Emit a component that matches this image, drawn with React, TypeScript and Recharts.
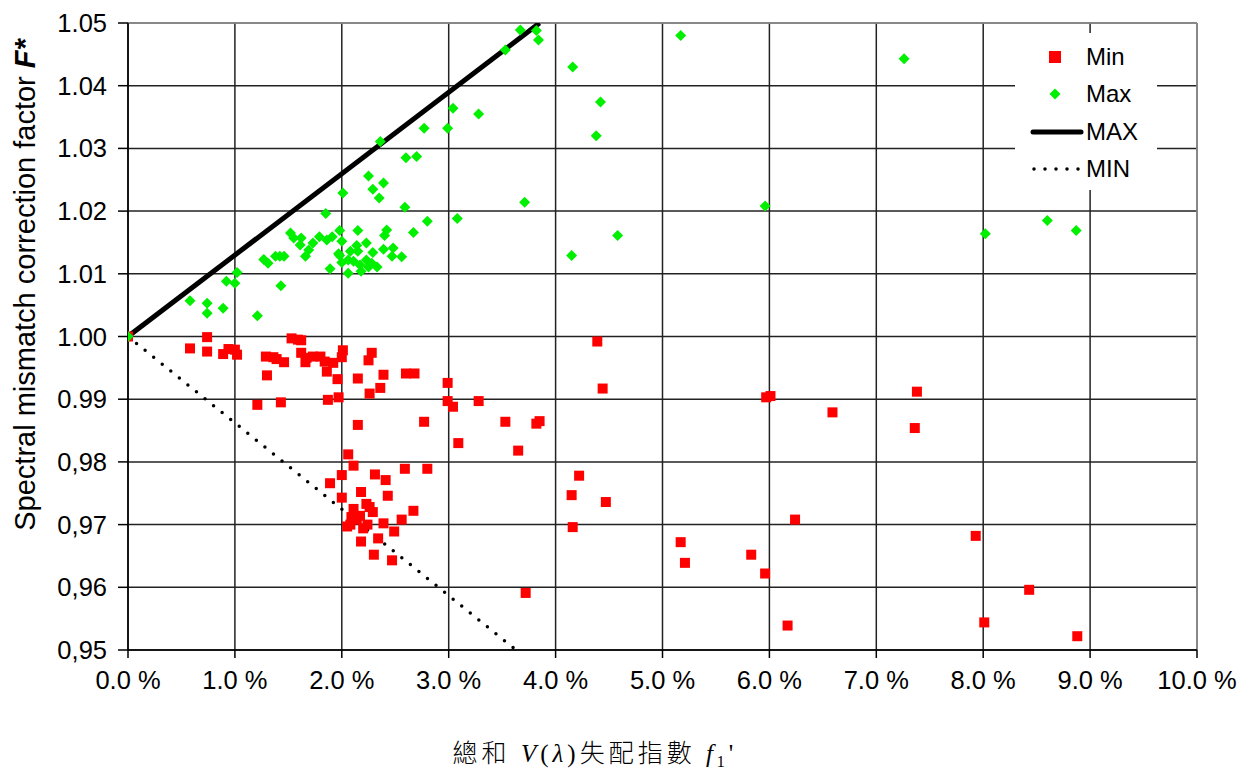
import React from 'react'
import {
  ScatterChart,
  Scatter,
  XAxis,
  YAxis,
  CartesianGrid,
  ReferenceLine,
  Label,
} from 'recharts'

// x = f1' in %, y = F*
const minX = [
  0, 0.58, 0.74, 0.74, 0.89, 0.94, 1.0, 1.02, 1.29, 1.36, 1.39, 1.46, 1.53, 1.59, 1.62, 1.3,
  1.62, 1.67, 1.66, 1.73, 1.8, 1.84, 1.86, 1.92, 2.01, 2.0, 1.96, 2.15, 2.39, 2.28, 2.25, 2.6,
  2.68, 2.36, 2.26, 1.21, 1.43, 1.87, 1.97, 2.15, 2.77, 2.06, 2.11, 2.0, 1.89, 2.59, 2.8, 2.31,
  2.41, 2.18, 2.43, 2.0, 2.11, 2.23, 2.26, 2.29, 2.17, 2.09, 2.14, 2.08, 2.05, 2.2, 2.24, 2.39,
  2.56, 2.67, 2.49, 2.34, 2.18, 2.3, 2.47, 2.99, 2.99, 3.04, 3.28, 3.09, 3.53, 3.65, 3.82, 3.85,
  3.72, 4.39, 4.44, 4.22, 4.15, 4.47, 4.16, 5.17, 5.21, 5.83, 5.96, 5.97, 6.01, 6.24, 6.17, 6.59,
  7.38, 7.36, 7.93, 8.43, 8.01, 8.88,
]
const minY = [
  1.0, 0.9981, 0.9999, 0.9976, 0.9972, 0.998, 0.9979, 0.9971, 0.9968, 0.9967, 0.9964, 0.9959, 0.9997, 0.9995, 0.9994, 0.9938,
  0.9974, 0.9966, 0.9959, 0.9968, 0.9968, 0.996, 0.9944, 0.9958, 0.9978, 0.9967, 0.9932, 0.9933, 0.9939, 0.9974, 0.9962, 0.9941,
  0.9941, 0.9918, 0.9909, 0.9891, 0.9895, 0.9899, 0.9903, 0.9859, 0.9864, 0.9812, 0.9794, 0.9779, 0.9766, 0.9789, 0.9789, 0.978,
  0.9771, 0.9752, 0.9746, 0.9743, 0.9725, 0.9733, 0.9728, 0.972, 0.9714, 0.9712, 0.9708, 0.97, 0.9697, 0.9694, 0.97, 0.9702,
  0.9708, 0.9722, 0.9689, 0.9678, 0.9673, 0.9652, 0.9643, 0.9926, 0.9897, 0.9888, 0.9897, 0.983, 0.9864, 0.9818, 0.9861, 0.9865,
  0.9591, 0.9992, 0.9917, 0.9778, 0.9747, 0.9736, 0.9696, 0.9672, 0.9639, 0.9652, 0.9622, 0.9903, 0.9905, 0.9708, 0.9539, 0.9879,
  0.9912, 0.9854, 0.9682, 0.9596, 0.9544, 0.9522,
]

const maxX = [
  0, 0.58, 0.74, 0.74, 0.89, 0.92, 1.02, 1.0, 1.21, 1.27, 1.31, 1.38, 1.42, 1.46, 1.43, 1.52,
  1.55, 1.62, 1.61, 1.66, 1.69, 1.73, 1.79, 1.86, 1.91, 1.98, 2.0, 1.89, 1.97, 1.98, 2.0, 2.06,
  2.06, 2.08, 2.11, 2.14, 2.15, 2.15, 2.17, 2.18, 2.23, 2.23, 2.25, 2.28, 2.29, 2.33, 2.39, 2.4,
  2.42, 2.47, 2.48, 2.56, 1.85, 2.01, 2.25, 2.29, 2.39, 2.35, 2.36, 2.59, 2.67, 2.8, 2.6, 2.7,
  2.77, 2.99, 3.04, 3.28, 3.08, 3.53, 3.67, 3.82, 3.84, 3.71, 4.16, 4.15, 4.42, 4.38, 4.58, 5.17,
  5.96, 7.26, 8.02, 8.6, 8.87,
]
const maxY = [
  1.0, 1.0057, 1.0053, 1.0037, 1.0045, 1.0088, 1.0102, 1.0085, 1.0033, 1.0123, 1.0117, 1.0128, 1.0128, 1.0128, 1.0081, 1.0165,
  1.0157, 1.0157, 1.0146, 1.0128, 1.0138, 1.0149, 1.0159, 1.0154, 1.0159, 1.0169, 1.0152, 1.0108, 1.0132, 1.0129, 1.0118, 1.0122,
  1.0101, 1.0136, 1.012, 1.0145, 1.0136, 1.0169, 1.0114, 1.0104, 1.0149, 1.0122, 1.0111, 1.0117, 1.0134, 1.0111, 1.0139, 1.0161,
  1.017, 1.0128, 1.0141, 1.0127, 1.0196, 1.0229, 1.0256, 1.0235, 1.0245, 1.0221, 1.0311, 1.0206, 1.0166, 1.0184, 1.0285, 1.0287,
  1.0332, 1.0332, 1.0364, 1.0355, 1.0188, 1.0457, 1.0489, 1.0488, 1.0473, 1.0214, 1.043, 1.0129, 1.0374, 1.032, 1.0161, 1.048,
  1.0208, 1.0443, 1.0164, 1.0185, 1.0169,
]

// bounding lines
const maxLineX = [0, 3.85]
const maxLineY = [1.0, 1.05]
const minLineX = [0, 3.63]
const minLineY = [1.0, 0.95]

const xTicks = [0, 1, 2, 3, 4, 5, 6, 7, 8, 9, 10]
const yTicks = [0.95, 0.96, 0.97, 0.98, 0.99, 1.0, 1.01, 1.02, 1.03, 1.04, 1.05]
const yTickLabels = ['0,95', '0,96', '0,97', '0,98', '0.99', '1.00', '1.01', '1.02', '1.03', '1.04', '1.05']

const toPoints = (xs: number[], ys: number[]) => xs.map((x, i) => ({ x, y: ys[i] }))

const minData = toPoints(minX, minY)
const maxData = toPoints(maxX, maxY)
const maxLine = toPoints(maxLineX, maxLineY)
const minLine = toPoints(minLineX, minLineY)

const FONT = '"Liberation Sans", Arial, sans-serif'
const RED = '#ff0000'
const GREEN = '#00f000'

const Square = (props: any) => (
  <rect x={props.cx - 5} y={props.cy - 5} width={10} height={10} fill={RED} />
)

const Diamond = (props: any) => {
  const { cx, cy } = props
  const r = 5.5
  return <polygon points={`${cx},${cy - r} ${cx + r},${cy} ${cx},${cy + r} ${cx - r},${cy}`} fill={GREEN} />
}

const NoDot = () => <g />

const YTitle = () => (
  <text
    transform="translate(35,285) rotate(-90)"
    textAnchor="middle"
    fontFamily={FONT}
    fontSize={29}
    fill="#000"
  >
    Spectral mismatch correction factor{' '}
    <tspan fontWeight="bold" fontStyle="italic">F*</tspan>
  </text>
)

function LegendBox() {
  const rows = [
    { label: 'Min', icon: <rect x={18} y={-6} width={12} height={12} fill={RED} /> },
    { label: 'Max', icon: <polygon points="24,-5.5 29.5,0 24,5.5 18.5,0" fill={GREEN} /> },
    { label: 'MAX', icon: <line x1={2} y1={0} x2={50} y2={0} stroke="#000" strokeWidth={5} strokeLinecap="round" /> },
    {
      label: 'MIN',
      icon: (
        <line x1={3} y1={0} x2={48} y2={0} stroke="#000" strokeWidth={3.5} strokeDasharray="0 11" strokeLinecap="round" />
      ),
    },
  ]
  return (
    <div
      style={{
        position: 'absolute',
        left: 1015,
        top: 33,
        width: 142,
        height: 157,
        background: '#fff',
      }}
    >
      {rows.map((r, i) => (
        <div
          key={r.label}
          style={{ position: 'absolute', left: 0, top: 5 + i * 37.5, height: 37.5, display: 'flex', alignItems: 'center' }}
        >
          <svg width={70} height={20} viewBox="-16 -10 70 20" style={{ display: 'block' }}>
            {r.icon}
          </svg>
          <span style={{ fontFamily: FONT, fontSize: 24, color: '#000', marginLeft: 1 }}>{r.label}</span>
        </div>
      ))}
    </div>
  )
}

export default function App() {
  return (
    <div style={{ position: 'absolute', left: 0, top: 0, width: 1260, height: 771, background: '#fff' }}>
      <ScatterChart width={1260} height={771} margin={{ top: 23, right: 63, bottom: 0, left: 0 }}>
        <CartesianGrid stroke="#222" strokeWidth={1.5} />
        <XAxis
          type="number"
          dataKey="x"
          domain={[0, 10]}
          ticks={xTicks}
          height={121}
          tickFormatter={(v: number) => `${v.toFixed(1)} %`}
          tick={{ fontFamily: FONT, fontSize: 25.5, fill: '#000' }}
          tickSize={8}
          tickMargin={13}
          stroke="#000"
          strokeWidth={1.5}
          allowDataOverflow
        />
        <YAxis
          type="number"
          dataKey="y"
          domain={[0.95, 1.05]}
          ticks={yTicks}
          width={128}
          tickFormatter={(v: number) => yTickLabels[yTicks.findIndex((t) => Math.abs(t - v) < 1e-6)]}
          tick={{ fontFamily: FONT, fontSize: 25.5, fill: '#000' }}
          tickSize={10}
          tickMargin={11}
          stroke="#000"
          strokeWidth={1.5}
          allowDataOverflow
        >
          <Label content={YTitle} />
        </YAxis>
        <ReferenceLine y={1.05} stroke="#999" strokeWidth={1.5} />
        <ReferenceLine x={10} stroke="#999" strokeWidth={1.5} />
        <Scatter
          data={maxLine}
          line={{ stroke: '#000', strokeWidth: 5 }}
          shape={NoDot}
          isAnimationActive={false}
        />
        <Scatter
          data={minLine}
          line={{ stroke: '#000', strokeWidth: 3.5, strokeDasharray: '0 11', strokeLinecap: 'round' }}
          shape={NoDot}
          isAnimationActive={false}
        />
        <Scatter data={minData} shape={Square} isAnimationActive={false} />
        <Scatter data={maxData} shape={Diamond} isAnimationActive={false} />
      </ScatterChart>
      <LegendBox />
      <div
        style={{
          position: 'absolute',
          left: 0,
          width: 1190,
          top: 736,
          lineHeight: '30px',
          textAlign: 'center',
          fontFamily: '"Liberation Serif", "Noto Sans CJK TC", serif',
          fontSize: 25,
          color: '#000',
          letterSpacing: 4,
          whiteSpace: 'nowrap',
        }}
      >
        <span style={{ fontFamily: '"Noto Sans CJK TC"', fontWeight: 300 }}>總和</span>{' '}
        <i>V</i>(<i>λ</i>)
        <span style={{ fontFamily: '"Noto Sans CJK TC"', fontWeight: 300 }}>失配指數</span>{' '}
        <i>f</i>
        <span style={{ fontSize: 16, position: 'relative', top: 5 }}>1</span>'
      </div>
    </div>
  )
}
